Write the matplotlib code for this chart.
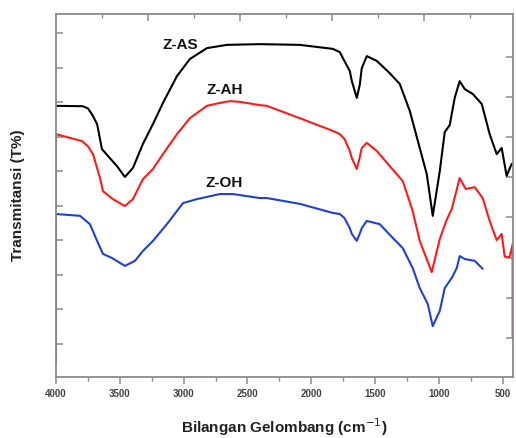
import numpy as np
import matplotlib
matplotlib.use("Agg")
import matplotlib.pyplot as plt

plt.rcParams["font.family"] = ["Liberation Sans", "DejaVu Sans"]

# FTIR spectra (wavenumber cm-1, transmittance in arbitrary units)
zas_wn = [4000, 3790, 3750, 3720, 3678, 3640, 3593, 3520, 3460, 3397, 3319, 3240,
          3162, 3052, 2951, 2818, 2661, 2400, 2090, 1831, 1776, 1753, 1698, 1682,
          1643, 1620, 1604, 1565, 1487, 1385, 1306, 1228, 1150, 1095, 1048, 993,
          954, 915, 876, 837, 797, 735, 664, 602, 547, 508, 469, 430, 422]
zas_t = [74.7, 74.6, 74.0, 72.5, 69.7, 62.8, 60.9, 58.0, 55.1, 57.6, 64.2, 69.7,
         75.5, 82.9, 87.6, 90.6, 91.5, 91.7, 91.5, 90.4, 89.5, 87.9, 84.3, 81.5,
         76.9, 80.5, 85.1, 88.4, 87.1, 83.7, 80.7, 73.3, 63.1, 55.9, 44.4, 56.7,
         67.5, 69.4, 76.9, 81.5, 79.3, 78.0, 75.2, 66.9, 61.4, 63.1, 55.4, 58.7, 58.7]

zah_wn = [4000, 4000, 3797, 3750, 3710, 3655, 3632, 3554, 3460, 3397, 3319, 3240,
          3162, 3052, 2951, 2818, 2716, 2638, 2559, 2403, 2348, 2090, 1831, 1776,
          1740, 1698, 1682, 1643, 1620, 1604, 1565, 1487, 1385, 1283, 1205, 1150,
          1056, 993, 939, 899, 837, 790, 719, 657, 602, 547, 508, 484, 445, 422, 422]
zah_t = [46.6, 66.9, 65.0, 63.6, 61.4, 54.8, 51.2, 49.0, 47.1, 49.0, 54.5, 57.3,
         61.4, 66.9, 71.3, 74.7, 75.5, 76.0, 75.8, 74.9, 74.7, 71.3, 67.8, 66.9,
         65.6, 62.3, 60.3, 57.3, 60.5, 63.1, 64.5, 62.3, 58.1, 54.0, 45.7, 37.5,
         28.9, 38.0, 43.3, 46.3, 54.8, 51.8, 52.3, 49.3, 43.0, 37.7, 39.4, 33.1,
         33.1, 36.6, 11.0]

zoh_wn = [4000, 4000, 3812, 3734, 3678, 3632, 3562, 3460, 3381, 3319, 3240, 3131,
          3005, 2896, 2716, 2614, 2403, 2348, 2090, 1831, 1776, 1740, 1698, 1682,
          1643, 1620, 1604, 1565, 1463, 1361, 1283, 1205, 1150, 1111, 1087, 1048,
          993, 954, 899, 860, 837, 797, 719, 657]
zoh_t = [3.9, 44.9, 44.4, 42.1, 37.5, 33.9, 32.8, 30.6, 32.0, 34.7, 37.5, 42.1,
         47.9, 49.0, 50.4, 50.4, 49.3, 49.3, 47.7, 45.2, 44.9, 43.8, 41.0, 39.4,
         37.5, 39.5, 41.0, 43.0, 42.1, 38.3, 35.5, 30.0, 24.5, 21.8, 20.1, 14.0,
         18.2, 24.5, 27.3, 30.0, 33.3, 32.5, 32.0, 29.8]

names = ["Z-AS", "Z-AH", "Z-OH"]
label_pos = [(3025, 91.5), (2680, 79.0), (2680, 53.5)]

fig = plt.figure(figsize=(5.16, 4.38), dpi=100)
ax = fig.add_axes([0.1085, 0.1393, 0.8855, 0.8287])

line_kw = dict(lw=1.5, solid_joinstyle="round", solid_capstyle="round")
ax.plot(zas_wn, zas_t, color="black", **line_kw)
ax.plot(zah_wn, zah_t, color="#ff1a1a", **line_kw)
ax.plot(zoh_wn, zoh_t, color="#1f3fd6", **line_kw)

for name, (x, y) in zip(names, label_pos):
    ax.text(x, y, name, fontsize=11, fontweight="bold", ha="center", va="center",
            color="#111111")

ax.set_xlim(4000, 420)
ax.set_ylim(0, 100)

gray = "#8a8a8a"
for s in ax.spines.values():
    s.set_color(gray)
    s.set_linewidth(1.3)

ax.set_xticks(np.arange(4000, 499, -500))
ax.set_xticks(np.arange(3750, 499, -500), minor=True)
ax.tick_params(axis="x", which="both", direction="out", color=gray,
               labelsize=7, pad=4)
ax.tick_params(axis="x", which="major", length=5, width=1.1)
ax.tick_params(axis="x", which="minor", length=3, width=1.0)
for lbl in ax.get_xticklabels():
    lbl.set_fontweight("bold")
    lbl.set_color("#444444")

ax.set_yticks(np.arange(9.2, 100, 9.5))
ax.tick_params(axis="y", direction="in", length=5, width=1.1, color=gray,
               labelleft=False)

top = ax.secondary_xaxis("top")
top.set_xticks(np.arange(3280, 900, -720))
top.set_xticks(np.arange(3640, 700, -720), minor=True)
top.tick_params(which="major", direction="in", length=5, width=1.1, color=gray,
                labeltop=False)
top.tick_params(which="minor", direction="in", length=3, width=1.0, color=gray)
top.spines["top"].set_visible(False)

right = ax.secondary_yaxis("right")
right.set_yticks(np.arange(10.8, 95, 11.05))
right.tick_params(direction="in", length=5, width=1.1, color=gray,
                  labelright=False)
right.spines["right"].set_visible(False)

ax.set_xlabel("Bilangan Gelombang (cm$^{-1}$)", fontsize=11, fontweight="bold",
              labelpad=12, color="#222222")
ax.set_ylabel("Transmitansi (T%)", fontsize=11, fontweight="bold", labelpad=22,
              color="#222222")

fig.savefig("out.png", dpi=100)
